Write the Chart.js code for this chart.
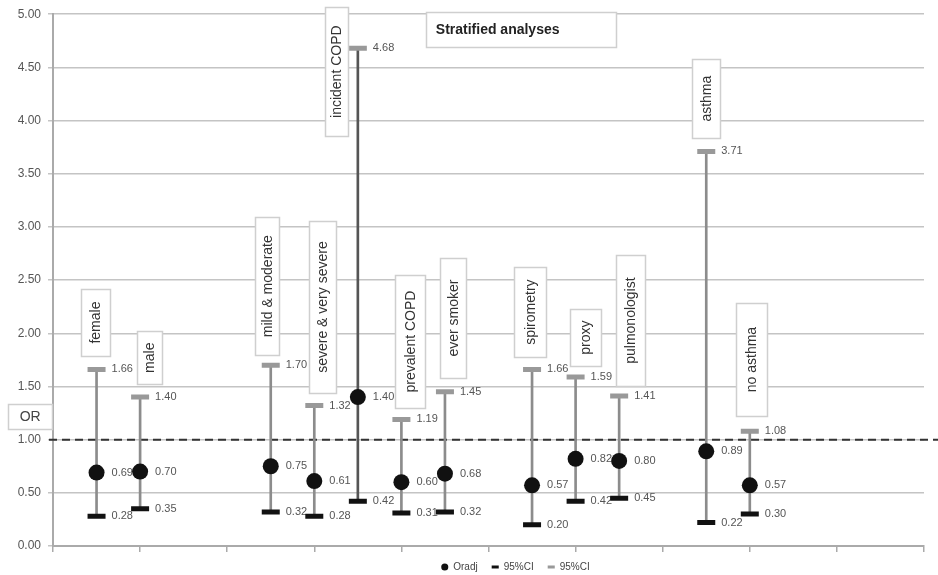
<!DOCTYPE html>
<html><head><meta charset="utf-8">
<script src="https://cdn.jsdelivr.net/npm/chart.js@4/dist/chart.umd.min.js"></script>
<style>html,body{margin:0;padding:0;background:#fff}#wrap{width:938px;height:575px;position:relative}</style>
</head><body><div id="wrap"><canvas id="c"></canvas></div>
<script>
// ---- data ----
const groups = ['female','male','mild & moderate','severe & very severe','incident COPD','prevalent COPD','ever smoker','spirometry','proxy','pulmonologist','asthma','no asthma'];
const xPositions = [1,2,5,6,7,8,9,11,12,13,15,16];
const orAdj   = [0.69,0.70,0.75,0.61,1.40,0.60,0.68,0.57,0.82,0.80,0.89,0.57];
const ciLower = [0.28,0.35,0.32,0.28,0.42,0.31,0.32,0.20,0.42,0.45,0.22,0.30];
const ciUpper = [1.66,1.40,1.70,1.32,4.68,1.19,1.45,1.66,1.59,1.41,3.71,1.08];
const seriesNames = ['Oradj','95%CI','95%CI'];
const chartTitle = 'Stratified analyses';
const axisLabel = 'OR';
const referenceValue = 1;

// ---- annotation layout (x in axis units, width in px, top/bottom in OR units) ----
const groupBoxes = [
  [0.97,29,2.415,1.786],[2.21,25,2.02,1.52],[4.92,24,3.09,1.795],[6.19,27,3.055,1.438],
  [6.51,23,5.066,3.853],[8.19,30,2.547,1.297],[9.18,26,2.707,1.579],[10.96,32,2.622,1.776],
  [12.23,31,2.227,1.692],[13.26,29,2.735,1.504],[14.99,28,4.577,3.835],[16.03,31,2.284,1.222]
];
const titleBox = [8.56,12.93,5.019,4.69];
const orBox = [-1.03,-0.02,1.335,1.10];

const FONT = '"Liberation Sans", Arial, sans-serif';

const annot = {
  id: 'annot',
  afterLayout(chart){
    const lg = chart.legend;
    if (lg) { lg.left += 52; lg.right += 52; lg.top -= 3; lg.bottom -= 3; }
  },
  beforeDatasetsDraw(chart){
    const {ctx, scales:{x,y}, chartArea} = chart;
    ctx.save();
    // value labels
    ctx.font = '11px ' + FONT;
    ctx.fillStyle = '#555';
    ctx.textBaseline = 'middle';
    ctx.textAlign = 'left';
    [orAdj, ciLower, ciUpper].forEach(arr => {
      arr.forEach((v,i) => {
        ctx.fillText(v.toFixed(2), x.getPixelForValue(xPositions[i]) + 15, y.getPixelForValue(v));
      });
    });
    // reference dashed line
    const yr = y.getPixelForValue(referenceValue);
    ctx.setLineDash([8,5]);
    ctx.strokeStyle = '#333';
    ctx.lineWidth = 2;
    ctx.beginPath();
    ctx.moveTo(chartArea.left - 4, yr);
    ctx.lineTo(chart.width, yr);
    ctx.stroke();
    ctx.restore();
  },
  afterDatasetsDraw(chart){
    const {ctx, scales:{x,y}} = chart;
    ctx.save();
    const box = (l,t,w,h) => {
      ctx.fillStyle = '#fff';
      ctx.fillRect(l,t,w,h);
      ctx.strokeStyle = '#cfcfcf';
      ctx.lineWidth = 1.5;
      ctx.strokeRect(l,t,w,h);
    };
    groupBoxes.forEach((b,i) => {
      const cx = x.getPixelForValue(b[0]);
      const t = y.getPixelForValue(b[2]);
      const bt = y.getPixelForValue(b[3]);
      box(Math.round(cx - b[1]/2)+0.5, Math.round(t)+0.5, b[1], Math.round(bt - t));
      ctx.save();
      ctx.translate(cx + 1, (t + bt)/2);
      ctx.rotate(-Math.PI/2);
      ctx.font = '14px ' + FONT;
      ctx.fillStyle = '#333';
      ctx.textAlign = 'center';
      ctx.textBaseline = 'middle';
      ctx.fillText(groups[i], 0, 0);
      ctx.restore();
    });
    // title
    {
      const l = x.getPixelForValue(titleBox[0]), r = x.getPixelForValue(titleBox[1]);
      const t = y.getPixelForValue(titleBox[2]), b = y.getPixelForValue(titleBox[3]);
      box(Math.round(l)+0.5, Math.round(t)+0.5, Math.round(r-l), Math.round(b-t));
      ctx.font = 'bold 14px ' + FONT;
      ctx.fillStyle = '#222';
      ctx.textAlign = 'left';
      ctx.textBaseline = 'middle';
      ctx.fillText(chartTitle, l + 10, (t+b)/2);
    }
    // OR label
    {
      const l = x.getPixelForValue(orBox[0]), r = x.getPixelForValue(orBox[1]);
      const t = y.getPixelForValue(orBox[2]), b = y.getPixelForValue(orBox[3]);
      box(Math.round(l)+0.5, Math.round(t)+0.5, Math.round(r-l), Math.round(b-t));
      ctx.font = '14px ' + FONT;
      ctx.fillStyle = '#444';
      ctx.textAlign = 'center';
      ctx.textBaseline = 'middle';
      ctx.fillText(axisLabel, (l+r)/2, (t+b)/2 + 1);
    }
    ctx.restore();
  }
};

new Chart(document.getElementById('c'), {
  type: 'scatter',
  data: {
    datasets: [
      {
        label: seriesNames[0],
        data: xPositions.map((xv,i) => ({x: xv, y: orAdj[i]})),
        pointStyle: 'circle', pointRadius: 8, pointHoverRadius: 8,
        backgroundColor: '#111', borderColor: '#111', borderWidth: 0, order: 0
      },
      {
        label: seriesNames[1],
        data: xPositions.map((xv,i) => ({x: xv, y: ciLower[i]})),
        pointStyle: 'line', pointRadius: 9, pointHoverRadius: 9,
        backgroundColor: '#111', borderColor: '#111', borderWidth: 5, order: 1
      },
      {
        label: seriesNames[2],
        data: xPositions.map((xv,i) => ({x: xv, y: ciUpper[i]})),
        pointStyle: 'line', pointRadius: 9, pointHoverRadius: 9,
        backgroundColor: '#999', borderColor: '#999', borderWidth: 5, order: 2
      },
      {
        type: 'bar',
        label: 'range',
        data: xPositions.map((xv,i) => ({x: xv, y: [ciLower[i], ciUpper[i]]})),
        barThickness: 2,
        backgroundColor: xPositions.map((_,i) => i === 4 ? '#555' : '#8c8c8c'),
        borderWidth: 0, order: 10
      }
    ]
  },
  options: {
    responsive: true, maintainAspectRatio: false, animation: false,
    layout: { padding: { left: 0, right: 11, top: 14, bottom: 0 } },
    scales: {
      x: {
        type: 'linear', min: 0, max: 20, offset: false,
        ticks: { display: false, stepSize: 2 },
        grid: { offset: false, drawOnChartArea: false, drawTicks: true, tickLength: 6, color: '#aaa', lineWidth: 1.5 },
        border: { color: '#aaa', width: 2 },
        afterFit(s){ s.height = 5; }
      },
      y: {
        type: 'linear', min: 0, max: 5,
        ticks: { stepSize: 0.5, padding: 7, color: '#555', font: { family: FONT, size: 12 },
                 callback: v => Number(v).toFixed(2) },
        grid: { color: '#c4c4c4', lineWidth: 1.5, tickLength: 5, drawTicks: true },
        border: { color: '#aaa', width: 2 },
        afterFit(s){ s.width = 53; }
      }
    },
    plugins: {
      tooltip: { enabled: false },
      legend: {
        position: 'bottom',
        maxHeight: 24,
        labels: {
          usePointStyle: true, boxWidth: 7, boxHeight: 5, padding: 14,
          color: '#444', font: { family: FONT, size: 10 },
          filter: item => item.datasetIndex < 3,
          generateLabels(chart){
            const items = Chart.defaults.plugins.legend.labels.generateLabels(chart);
            items.forEach(it => { if (it.pointStyle === 'line') it.lineWidth = 3; });
            return items;
          }
        }
      }
    }
  },
  plugins: [annot]
});
</script></body></html>
